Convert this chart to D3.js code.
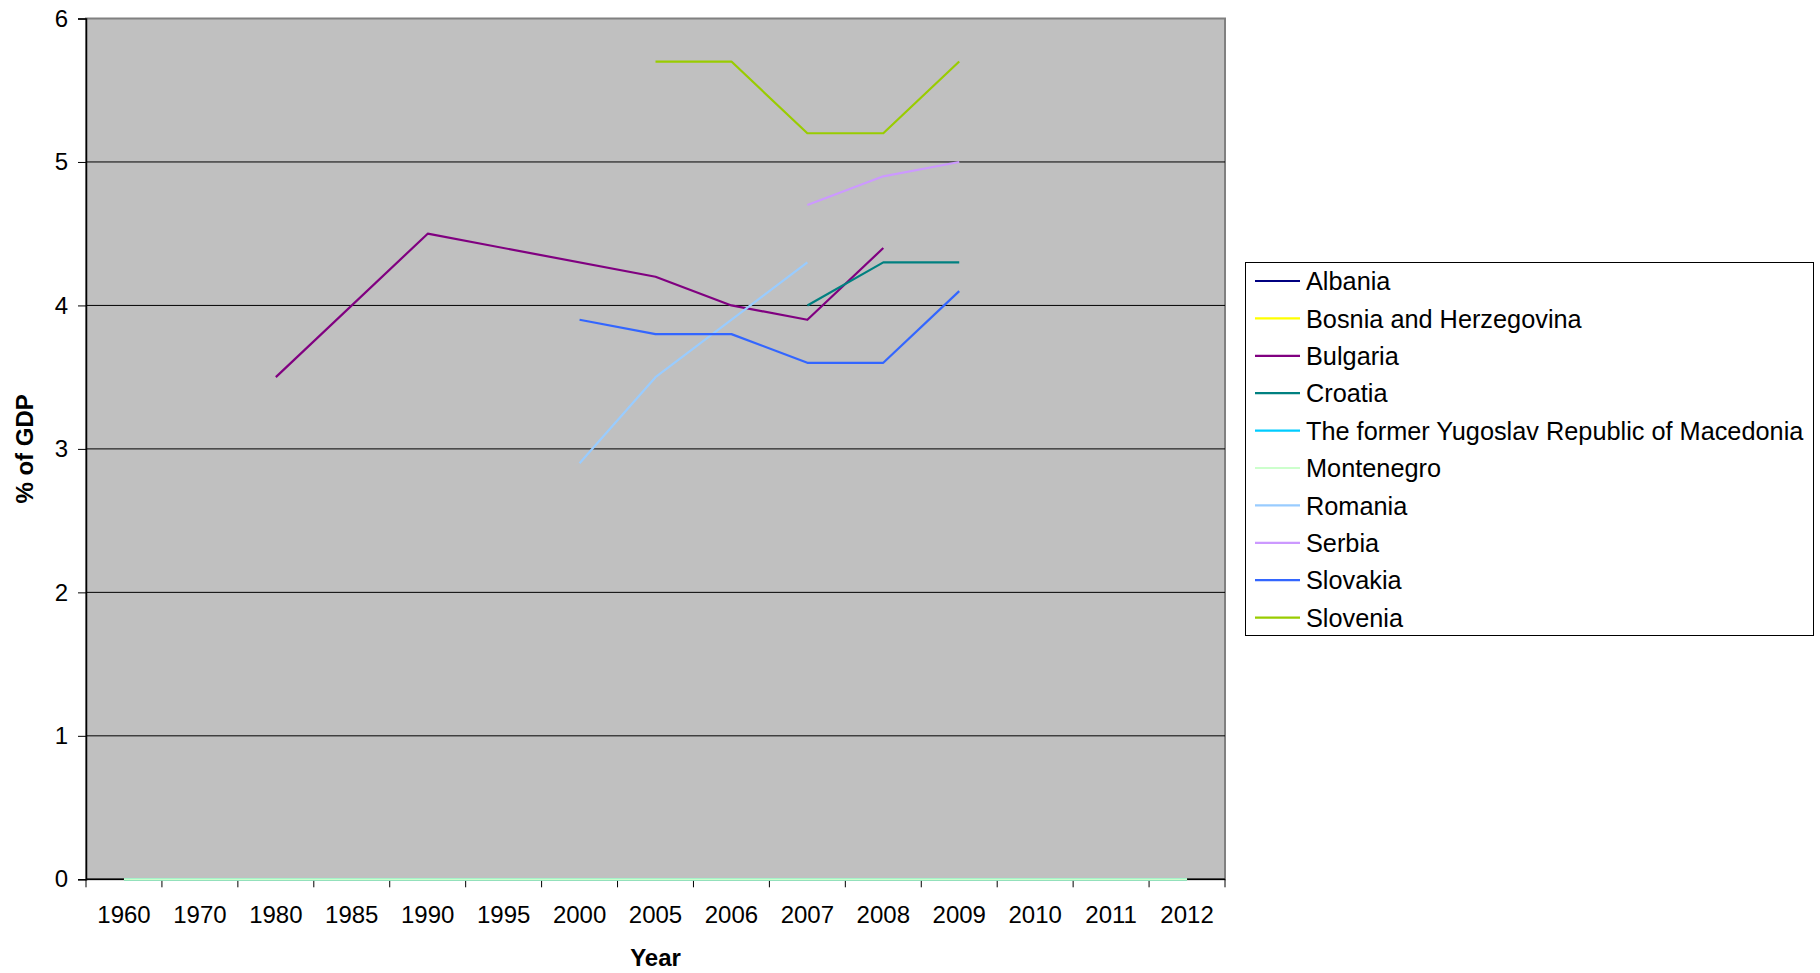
<!DOCTYPE html>
<html>
<head>
<meta charset="utf-8">
<script src="https://cdn.jsdelivr.net/npm/d3@7"></script>
<style>
  body { margin: 0; background: #fff; }
  svg { display: block; font-family: "Liberation Sans", Arial, sans-serif; }
</style>
</head>
<body>
<div id="chart"></div>
<script>
// categories on the x axis
const years = ["1960", "1970", "1980", "1985", "1990", "1995", "2000", "2005",
  "2006", "2007", "2008", "2009", "2010", "2011", "2012"];

const yTicks = [0, 1, 2, 3, 4, 5, 6];

// one array per country, same order as years (null = no value)
const albania    = [0, 0, 0, 0, 0, 0, 0, 0, 0, 0, 0, 0, 0, 0, 0];
const bosnia     = [0, 0, 0, 0, 0, 0, 0, 0, 0, 0, 0, 0, 0, 0, 0];
const bulgaria   = [null, null, 3.5, null, 4.5, null, null, 4.2, 4.0, 3.9, 4.4, null, null, null, null];
const croatia    = [null, null, null, null, null, null, null, null, null, 4.0, 4.3, 4.3, null, null, null];
const macedonia  = [0, 0, 0, 0, 0, 0, 0, 0, 0, 0, 0, 0, 0, 0, 0];
const montenegro = [0, 0, 0, 0, 0, 0, 0, 0, 0, 0, 0, 0, 0, 0, 0];
const romania    = [null, null, null, null, null, null, 2.9, 3.5, null, 4.3, null, null, null, null, null];
const serbia     = [null, null, null, null, null, null, null, null, null, 4.7, 4.9, 5.0, null, null, null];
const slovakia   = [null, null, null, null, null, null, 3.9, 3.8, 3.8, 3.6, 3.6, 4.1, null, null, null];
const slovenia   = [null, null, null, null, null, null, null, 5.7, 5.7, 5.2, 5.2, 5.7, null, null, null];

const series = [
  { name: "Albania", values: albania, color: "#000080" },
  { name: "Bosnia and Herzegovina", values: bosnia, color: "#ffff00" },
  { name: "Bulgaria", values: bulgaria, color: "#800080" },
  { name: "Croatia", values: croatia, color: "#008080" },
  { name: "The former Yugoslav Republic of Macedonia", values: macedonia, color: "#00ccff" },
  { name: "Montenegro", values: montenegro, color: "#ccffcc" },
  { name: "Romania", values: romania, color: "#99ccff" },
  { name: "Serbia", values: serbia, color: "#cc99ff" },
  { name: "Slovakia", values: slovakia, color: "#3366ff" },
  { name: "Slovenia", values: slovenia, color: "#99cc00" },
];

const width = 1820;
const height = 973;
const plot = { left: 86, right: 1225, top: 18.5, bottom: 879.3 };

const svg = d3.select("#chart")
  .append("svg")
  .attr("width", width)
  .attr("height", height);

const x = d3.scaleBand()
  .domain(years)
  .range([plot.left, plot.right])
  .padding(0);

const y = d3.scaleLinear()
  .domain([0, 6])
  .range([plot.bottom, plot.top]);

// plot area
svg.append("rect")
  .attr("x", plot.left)
  .attr("y", plot.top)
  .attr("width", plot.right - plot.left)
  .attr("height", plot.bottom - plot.top)
  .attr("fill", "#c0c0c0")
  .attr("stroke", "#808080")
  .attr("stroke-width", 2);

// gridlines
svg.append("g")
  .selectAll("line")
  .data(yTicks.filter((d) => d > 0 && d < 6))
  .join("line")
  .attr("x1", plot.left)
  .attr("x2", plot.right)
  .attr("y1", (d) => y(d))
  .attr("y2", (d) => y(d))
  .attr("stroke", "#000")
  .attr("stroke-width", 1);

// y axis
const yAxis = svg.append("g")
  .attr("transform", `translate(${plot.left},0)`)
  .call(d3.axisLeft(y).tickValues(yTicks).tickSize(8).tickPadding(10).tickFormat(d3.format("d")));
yAxis.select(".domain").attr("stroke", "#000").attr("stroke-width", 1.5);
yAxis.selectAll(".tick line").attr("stroke", "#000");
yAxis.selectAll("text")
  .attr("font-size", 24)
  .attr("font-family", "Liberation Sans, Arial, sans-serif")
  .attr("fill", "#000");

// x axis: labels centred in bands, ticks on band edges
const xAxis = svg.append("g")
  .attr("transform", `translate(0,${plot.bottom})`)
  .call(d3.axisBottom(x).tickSize(0).tickPadding(27));
xAxis.select(".domain").remove();
xAxis.selectAll("text")
  .attr("font-size", 24)
  .attr("font-family", "Liberation Sans, Arial, sans-serif")
  .attr("fill", "#000");

const edges = years.map((d) => x(d)).concat([x.range()[1]]);
svg.append("g")
  .selectAll("line")
  .data(edges)
  .join("line")
  .attr("x1", (d) => d)
  .attr("x2", (d) => d)
  .attr("y1", plot.bottom)
  .attr("y2", plot.bottom + 8)
  .attr("stroke", "#000");

svg.append("line")
  .attr("x1", plot.left)
  .attr("x2", plot.right)
  .attr("y1", plot.bottom)
  .attr("y2", plot.bottom)
  .attr("stroke", "#000")
  .attr("stroke-width", 1.5);

// lines (points with no value are skipped and the rest joined)
const line = d3.line()
  .x((d) => x(d.year) + x.bandwidth() / 2)
  .y((d) => y(d.value));

svg.append("g")
  .selectAll("path")
  .data(series)
  .join("path")
  .attr("fill", "none")
  .attr("stroke", (d) => d.color)
  .attr("stroke-width", 2.2)
  .attr("stroke-linejoin", "round")
  .attr("d", (d) => line(
    years.map((yr, i) => ({ year: yr, value: d.values[i] }))
      .filter((p) => p.value != null)
  ));

// axis titles
svg.append("text")
  .attr("x", (plot.left + plot.right) / 2)
  .attr("y", 966)
  .attr("text-anchor", "middle")
  .attr("font-size", 24)
  .attr("font-weight", "bold")
  .text("Year");

svg.append("text")
  .attr("transform", `translate(33,${(plot.top + plot.bottom) / 2}) rotate(-90)`)
  .attr("text-anchor", "middle")
  .attr("font-size", 24)
  .attr("font-weight", "bold")
  .text("% of GDP");

// legend
const legend = svg.append("g");
legend.append("rect")
  .attr("x", 1245.5)
  .attr("y", 262.5)
  .attr("width", 568)
  .attr("height", 373)
  .attr("fill", "#fff")
  .attr("stroke", "#000")
  .attr("stroke-width", 1);

const items = legend.selectAll("g.item")
  .data(series)
  .join("g")
  .attr("class", "item")
  .attr("transform", (d, i) => `translate(1255,${281 + i * 37.4})`);

items.append("line")
  .attr("x1", 0)
  .attr("x2", 45)
  .attr("stroke", (d) => d.color)
  .attr("stroke-width", 2.2);

items.append("text")
  .attr("x", 51)
  .attr("dy", "0.36em")
  .attr("font-size", 25.3)
  .text((d) => d.name);
</script>
</body>
</html>
